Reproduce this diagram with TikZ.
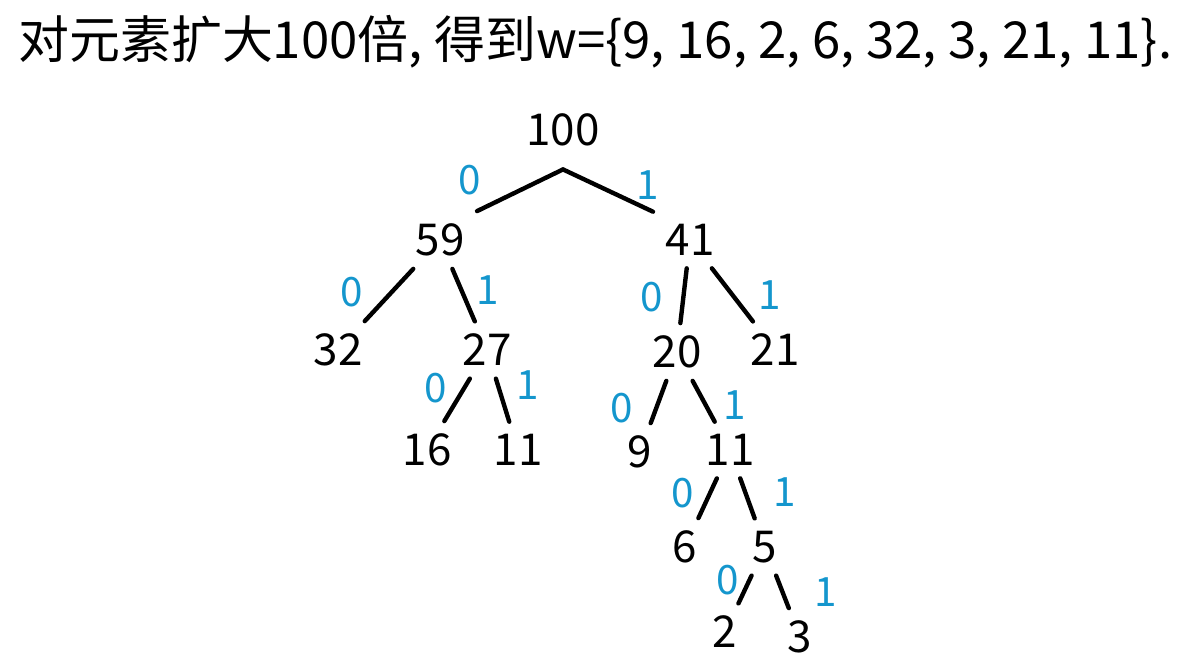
\documentclass[tikz,border=0pt]{standalone}
\usepackage{fontspec}
\newfontfamily\cjk{Noto Sans CJK SC}
\usetikzlibrary{calc}
\definecolor{handblue}{RGB}{20,150,205}

\tikzset{
	num/.style={font=\cjk\fontsize{25}{27}\selectfont, inner sep=7pt},
	bit/.style={font=\cjk\fontsize{23}{25}\selectfont, text=handblue},
	branch/.style={line width=2.5pt, line cap=round}
}

\begin{document}
\begin{tikzpicture}[x=0.02cm,y=-0.02cm]
	\useasboundingbox (0,0) rectangle (1195,670);
	\node[font=\cjk\fontsize{29}{32}\selectfont, anchor=west] (title) at (12,42) {对元素扩大100倍, 得到w=\{9, 16, 2, 6, 32, 3, 21, 11\}.};
	
	\node[num] (n100) at (563,130) {100};
	\node[num] (n59) at (440,240) {59};
	\node[num] (n41) at (690,240) {41};
	\node[num] (n32) at (338,350) {32};
	\node[num] (n27) at (487,350) {27};
	\node[num] (n20) at (677,352) {20};
	\node[num] (n21) at (775,350) {21};
	\node[num] (n16) at (427,450) {16};
	\node[num] (n11a) at (518,450) {11};
	\node[num] (n9) at (640,452) {9};
	\node[num] (n11b) at (730,450) {11};
	\node[num] (n6) at (685,547) {6};
	\node[num] (n5) at (765,547) {5};
	\node[num] (n2) at (725,632) {2};
	\node[num] (n3) at (800,637) {3};
	
	\draw[branch] ([yshift=-6pt]n100.south) -- (n59.north east);
	\draw[branch] ([yshift=-6pt]n100.south) -- (n41.north west);
	\draw[branch] (n59) -- (n32);
	\draw[branch] (n59) -- (n27);
	\draw[branch] (n41) -- (n20);
	\draw[branch] (n41) -- (n21);
	\draw[branch] (n27) -- (n16);
	\draw[branch] (n27) -- (n11a);
	\draw[branch] (n20) -- (n9);
	\draw[branch] (n20) -- (n11b);
	\draw[branch] (n11b) -- (n6);
	\draw[branch] (n11b) -- (n5);
	\draw[branch] (n5) -- (n2);
	\draw[branch] (n5) -- (n3);
	
	\node[bit] (b1) at (470,180) {0};
	\node[bit] (b2) at (648,185) {1};
	\node[bit] (b3) at (352,292) {0};
	\node[bit] (b4) at (488,290) {1};
	\node[bit] (b5) at (652,297) {0};
	\node[bit] (b6) at (770,295) {1};
	\node[bit] (b7) at (436,388) {0};
	\node[bit] (b8) at (528,385) {1};
	\node[bit] (b9) at (622,408) {0};
	\node[bit] (b10) at (735,405) {1};
	\node[bit] (b11) at (683,493) {0};
	\node[bit] (b12) at (785,492) {1};
	\node[bit] (b13) at (728,580) {0};
	\node[bit] (b14) at (826,592) {1};
\end{tikzpicture}
\end{document}
